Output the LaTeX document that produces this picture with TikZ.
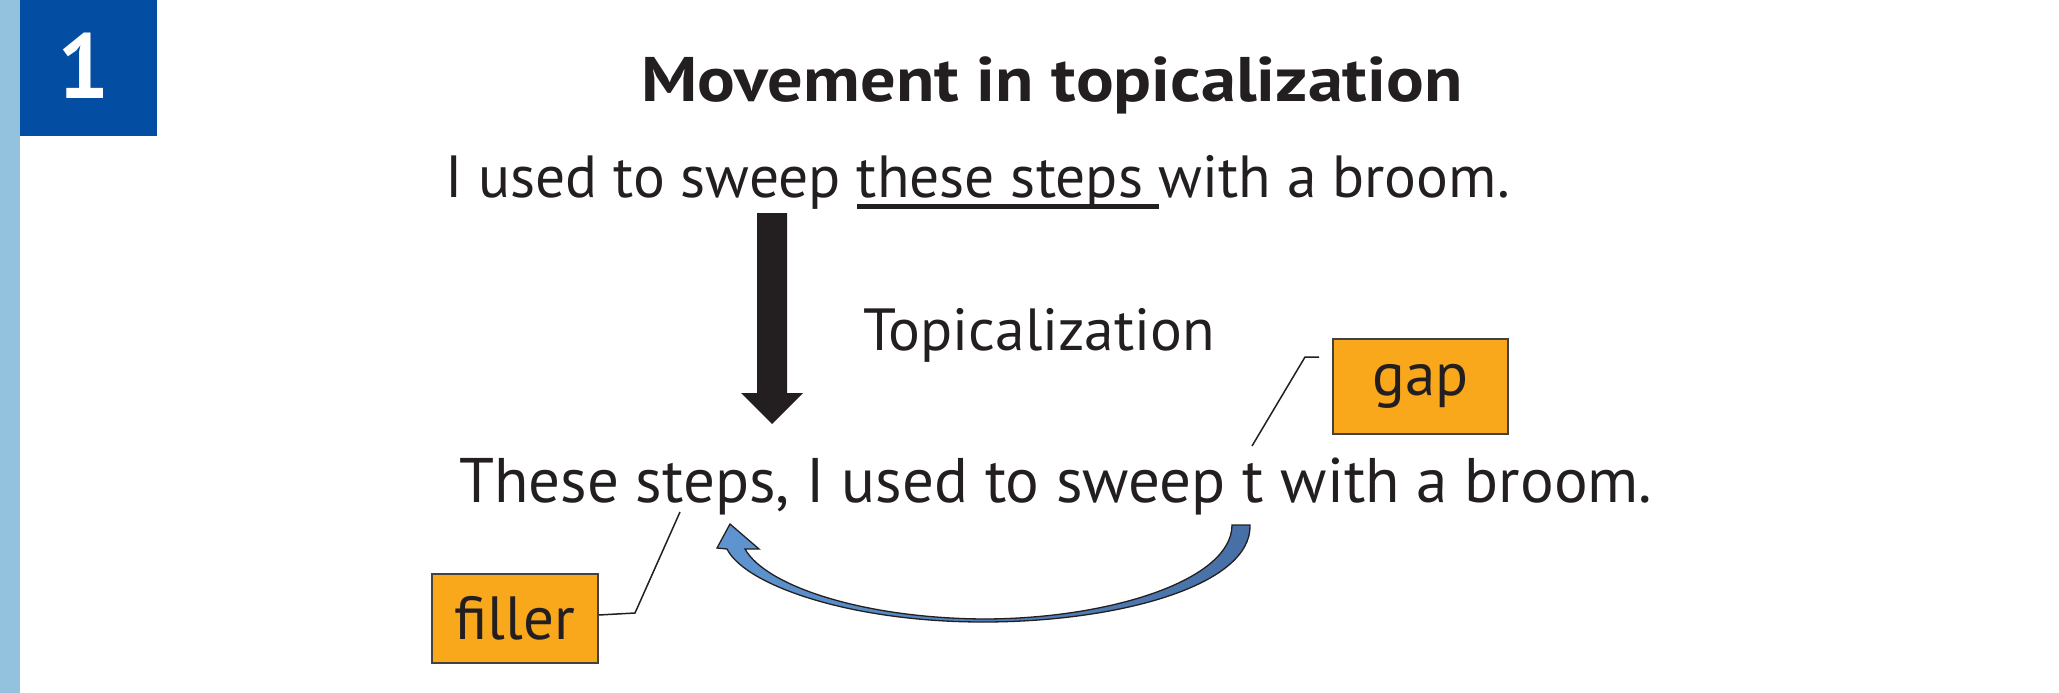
\documentclass[tikz,border=0pt]{standalone}
\usepackage{fontspec}
\setmainfont{PT Sans}
\usetikzlibrary{calc}
\definecolor{txt}{HTML}{231F20}
\definecolor{stripblue}{HTML}{93C2DF}
\definecolor{boxblue}{HTML}{034EA2}
\definecolor{tagorange}{HTML}{F9A71B}
\definecolor{arrowlight}{HTML}{5E95D0}
\definecolor{arrowdark}{HTML}{476FA6}
\newcommand\myuline[1]{\setbox0\hbox{#1}\rlap{\rule[-11.5pt]{\wd0}{5pt}}\box0}
\tikzset{
  sent/.style={inner sep=0pt, anchor=base west, text=txt, font=\fontsize{59.5}{72}\selectfont},
  sentbig/.style={sent, font=\fontsize{63}{72}\selectfont},
  tagbox/.style={draw=txt!85, line width=1.5pt, fill=tagorange, text=txt, inner sep=0pt,
     font=\fontsize{61}{72}\selectfont},
  leader/.style={draw=txt, line width=1.5pt},
}
\begin{document}
\begin{tikzpicture}[x=1pt,y=-1pt]
\useasboundingbox (0,0) rectangle (2059,693);
\fill[white] (0,0) rectangle (2059,693);
% side strip and number box
\fill[stripblue] (0,0) rectangle (20,693);
\fill[boxblue] (20,0) rectangle (157,136);
\node[inner sep=0pt, anchor=base, text=white, font=\fontsize{92}{100}\bfseries\selectfont] (num) at (84,98) {1};
% title
\node[inner sep=0pt, anchor=base, text=txt, font=\fontsize{63}{72}\bfseries\selectfont] (title) at (1052,101) {\scalebox{1.117}[1]{Movement in topicalization}};
% sentence 1
\node[sent] (s1) at (445,197) {I used to sweep \myuline{these steps\ }with a broom.};
% big black arrow
\fill[txt] (757,213) -- (787,213) -- (787,393) -- (803,393) -- (772,424) -- (741,393) -- (757,393) -- cycle;
% Topicalization label
\node[sent] (topic) at (863,350) {Topicalization};
% sentence 2
\node[sentbig] (s2) at (459,502) {These steps, I used to sweep t with a broom.};
% tag boxes
\node[tagbox, minimum width=175pt, minimum height=95pt] (gap) at (1420.5,386.5) {gap};
\node[tagbox, minimum width=166pt, minimum height=89pt] (filler) at (515,618.5) {filler};
% leader lines
\coordinate (gapA) at (1319,357);
\coordinate (gapB) at (1305,357);
\coordinate (gapC) at (1252,446);
\draw[leader] (gapA) -- (gapB) -- (gapC);
\coordinate (filB) at (635,613);
\coordinate (filC) at (680,512);
\draw[leader] (filler.east |- 0,615) -- (filB) -- (filC);
% curved blue movement arrow
\shade[left color=arrowlight, right color=arrowdark, draw=txt, line width=1.3pt, line join=miter]
  (1232,525) -- (1250,525)
  .. controls (1252,585) and (1120,622) .. (983,622)
  .. controls (850,622) and (745,585) .. (727,549)
  -- (717,548) -- (730,524) -- (759,549) -- (745,549)
  .. controls (765,585) and (860,618) .. (983,619)
  .. controls (1110,619) and (1232,580) .. (1232,525) -- cycle;
\end{tikzpicture}
\end{document}
